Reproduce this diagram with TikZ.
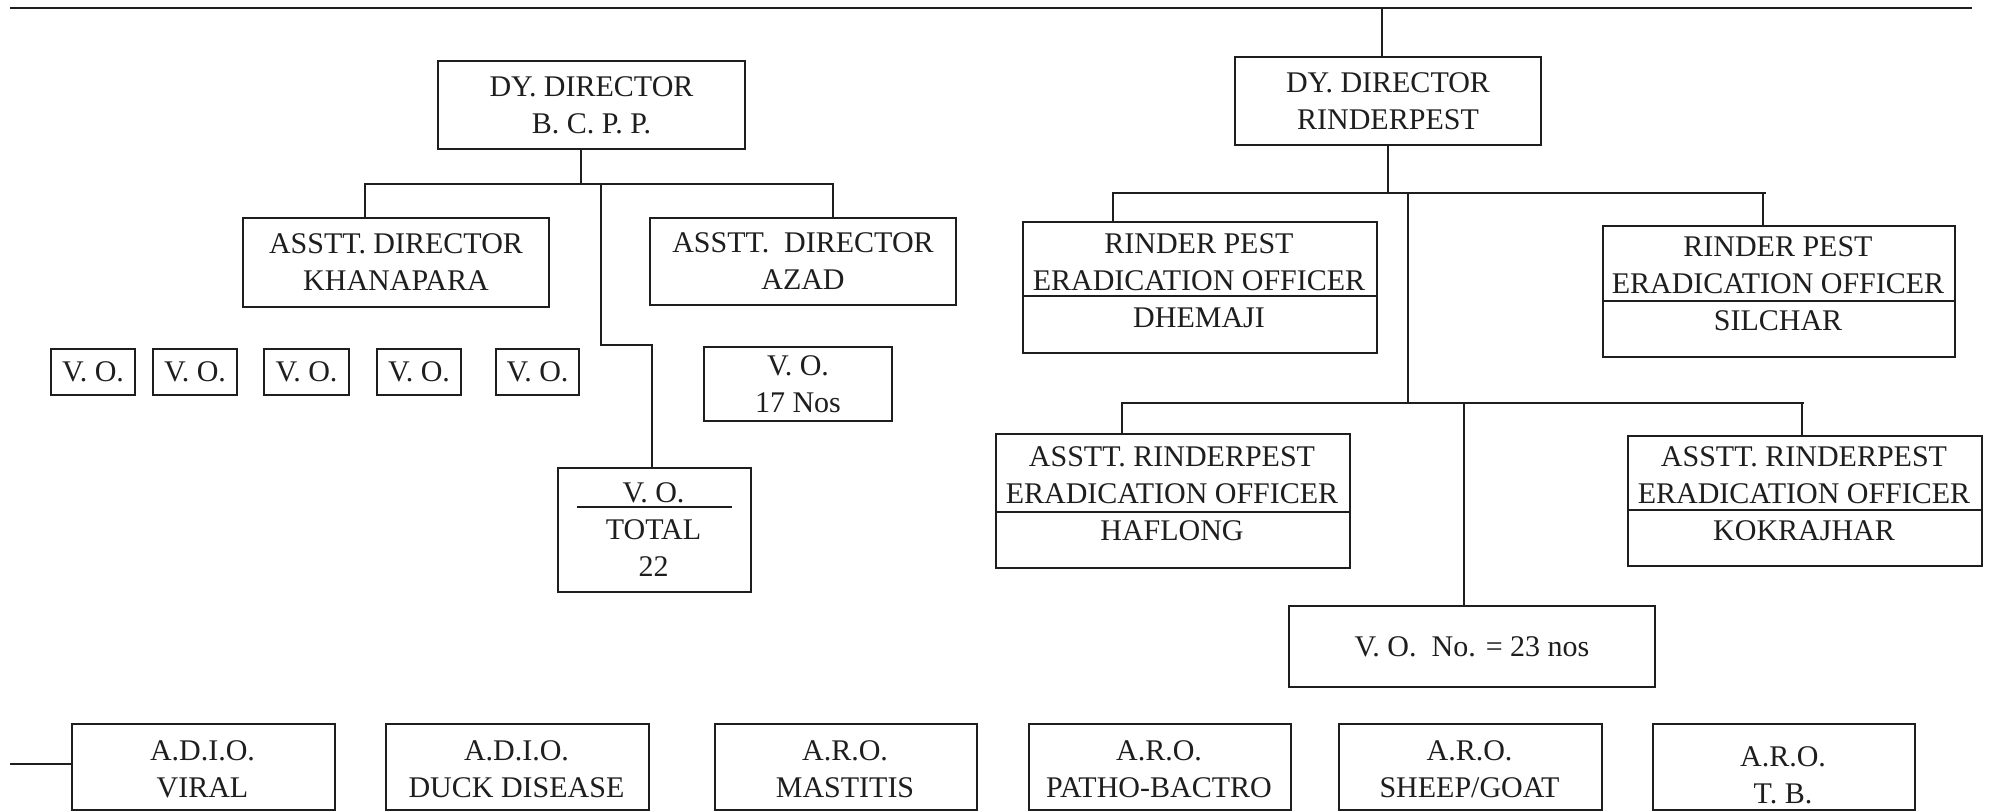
\documentclass[tikz,border=0pt]{standalone}
\usepackage{fontspec}
\setmainfont{Liberation Serif}
\definecolor{ink}{HTML}{1E1E1E}
\begin{document}
\begin{tikzpicture}[x=1pt,y=-1pt,
  box/.style={draw=ink, line width=2pt, inner sep=0pt, align=center, text=ink,
              font=\fontsize{30}{37}\selectfont, anchor=north west},
  txt/.style={inner sep=0pt, align=center, text=ink, font=\fontsize{30}{37}\selectfont},
  conn/.style={draw=ink, line width=1.8pt},
  sep/.style={draw=ink, line width=2pt},
  topline/.style={draw=ink, line width=2.6pt}]
\fill[white] (0,0) rectangle (1991,811);
\useasboundingbox (0,0) rectangle (1991,811);

% ---------- boxes, left part
\node[box, minimum width=307, minimum height=88] (bcpp) at (437,60) {DY. DIRECTOR\\B. C. P. P.};
\node[box, minimum width=306, minimum height=89] (khan) at (242,217) {ASSTT. DIRECTOR\\KHANAPARA};
\node[box, minimum width=306, minimum height=87] (azad) at (649,217) {ASSTT.\ \ DIRECTOR\\AZAD};
\node[box, minimum width=84, minimum height=46] (vo1) at (50,348) {V. O.};
\node[box, minimum width=84, minimum height=46] (vo2) at (152,348) {V. O.};
\node[box, minimum width=85, minimum height=46] (vo3) at (263,348) {V. O.};
\node[box, minimum width=84, minimum height=46] (vo4) at (376,348) {V. O.};
\node[box, minimum width=83, minimum height=46] (vo5) at (495,348) {V. O.};
\node[box, minimum width=188, minimum height=74] (vo17) at (703,346) {V. O.\\17 Nos};
\node[box, minimum width=193, minimum height=124] (total) at (557,467) {};
\node[txt] (totaltxt) at (653.5,530) {V. O.\\TOTAL\\22};
\draw[sep] (577,507) -- (732,507);

% ---------- boxes, right part
\node[box, minimum width=306, minimum height=88] (ddr) at (1234,56) {DY. DIRECTOR\\RINDERPEST};
\node[box, minimum width=354, minimum height=131] (dhem) at (1022,221) {};
\node[txt] (dhemtxt) at (1199,281) {RINDER PEST\\ERADICATION OFFICER\\DHEMAJI};
\draw[sep] (dhem.west |- 0,296) -- (dhem.east |- 0,296);
\node[box, minimum width=352, minimum height=131] (silc) at (1602,225) {};
\node[txt] (silctxt) at (1778,284) {RINDER PEST\\ERADICATION OFFICER\\SILCHAR};
\draw[sep] (silc.west |- 0,301) -- (silc.east |- 0,301);
\node[box, minimum width=354, minimum height=134] (haf) at (995,433) {};
\node[txt] (haftxt) at (1172,494) {ASSTT. RINDERPEST\\ERADICATION OFFICER\\HAFLONG};
\draw[sep] (haf.west |- 0,512) -- (haf.east |- 0,512);
\node[box, minimum width=354, minimum height=130] (kok) at (1627,435) {};
\node[txt] (koktxt) at (1804,494) {ASSTT. RINDERPEST\\ERADICATION OFFICER\\KOKRAJHAR};
\draw[sep] (kok.west |- 0,510) -- (kok.east |- 0,510);
\node[box, minimum width=366, minimum height=81] (vo23) at (1288,605) {V. O.\ \ No. = 23 nos};

% ---------- bottom row
\node[box, minimum width=263, minimum height=86] (viral) at (71,723) {};
\node[txt] (viraltxt) at (202.5,769) {A.D.I.O.\\VIRAL};
\node[box, minimum width=263, minimum height=86] (duck) at (385,723) {};
\node[txt] (ducktxt) at (516.5,769) {A.D.I.O.\\DUCK DISEASE};
\node[box, minimum width=262, minimum height=86] (mast) at (714,723) {};
\node[txt] (masttxt) at (845,769) {A.R.O.\\MASTITIS};
\node[box, minimum width=262, minimum height=86] (patho) at (1028,723) {};
\node[txt] (pathotxt) at (1159,769) {A.R.O.\\PATHO-BACTRO};
\node[box, minimum width=263, minimum height=86] (sheep) at (1338,723) {};
\node[txt] (sheeptxt) at (1469.5,769) {A.R.O.\\SHEEP/GOAT};
\node[box, minimum width=262, minimum height=86] (tb) at (1652,723) {};
\node[txt] (tbtxt) at (1783,775) {A.R.O.\\T. B.};

% ---------- connectors
\coordinate (topL) at (10,8);
\coordinate (topR) at (1972,8);
\draw[topline] (topL) -- (topR);
\draw[conn] ([xshift=-6pt]ddr.north) -- ([xshift=-6pt]ddr.north |- topL);

% left branch
\coordinate (jL) at (581,184);
\draw[conn] (bcpp.south -| jL) -- (jL);
\draw[conn] (khan.north -| 365,0) -- (365,184) -- (833,184) -- (azad.north -| 833,0);
\coordinate (jT) at (652,345);
\draw[conn] (601,184) |- (jT) -- (total.north -| jT);

% right branch
\coordinate (jR) at (1388,193);
\draw[conn] (ddr.south -| jR) -- (jR);
\draw[conn] (dhem.north -| 1113,0) -- (1113,193) -- (1766,193);
\draw[conn] (1763,193) -- (silc.north -| 1763,0);
\draw[conn] (1408,193) -- (1408,404);
\draw[conn] (haf.north -| 1122,0) -- (1122,403) -- (1804,403);
\draw[conn] (1802,403) -- (kok.north -| 1802,0);
\draw[conn] (1464,403) -- (vo23.north -| 1464,0);

% bottom stub
\coordinate (stub) at (10,764);
\draw[conn] (stub) -- (viral.west |- stub);
\end{tikzpicture}
\end{document}
